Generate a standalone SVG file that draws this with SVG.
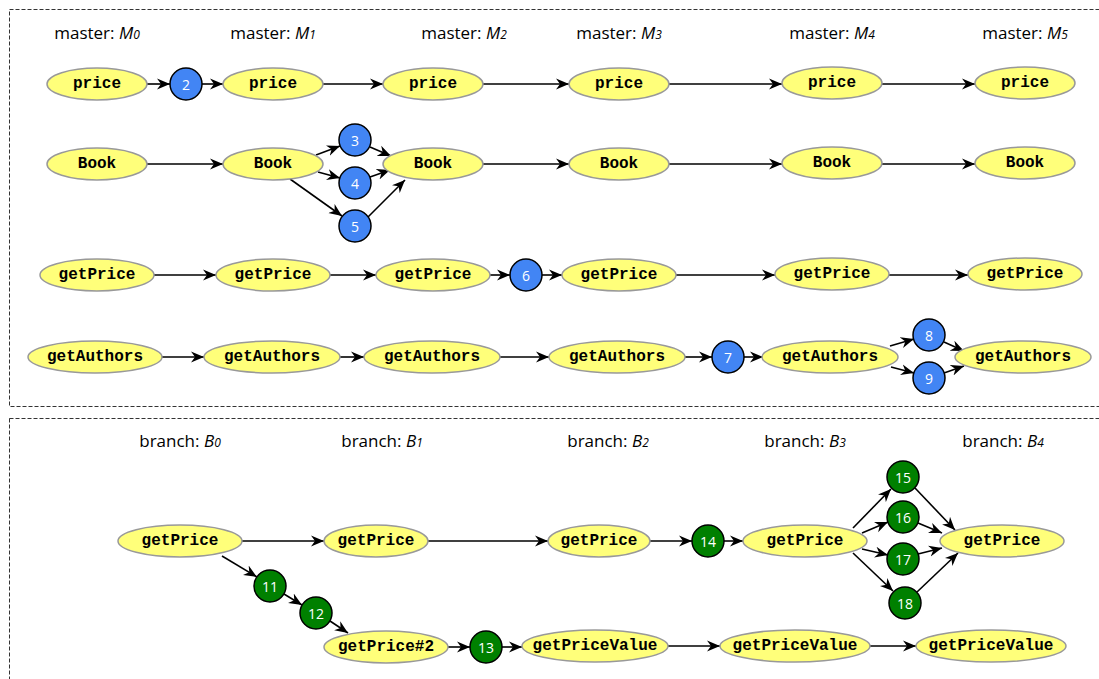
<svg xmlns="http://www.w3.org/2000/svg" width="1099" height="679" viewBox="0 0 1099 679">
<defs>
<marker id="ah" markerWidth="14" markerHeight="12" viewBox="0 0 14 12" refX="13" refY="6" orient="auto" markerUnits="userSpaceOnUse">
<path d="M0,0.5 L13,6 L0,11.5 L4,6 Z" fill="#000"/>
</marker>
<style>
.box{fill:none;stroke:#333;stroke-width:1;stroke-dasharray:4,2}
.lbl{font-family:"Open Sans","Liberation Sans",sans-serif;font-size:17px;fill:#000;text-anchor:middle}
.it{font-style:italic}
.sub{font-style:italic;font-size:12px}
.el{fill:#ffff7a;stroke:#999;stroke-width:1.5}
.et{font-family:"Liberation Mono","Courier New",monospace;font-weight:bold;font-size:16px;fill:#000;text-anchor:middle;dominant-baseline:central}
.cb{fill:#4285f4;stroke:#000;stroke-width:1.5}
.cg{fill:#008000;stroke:#000;stroke-width:1.5}
.ct{font-family:"Open Sans","Liberation Sans",sans-serif;font-size:14px;fill:#fff;text-anchor:middle;dominant-baseline:central}
.e{stroke:#000;stroke-width:1.6;fill:none;marker-end:url(#ah)}
</style>
</defs>
<rect width="1099" height="679" fill="#fff"/>
<rect class="box" x="9.5" y="9.5" width="1100" height="397"/>
<rect class="box" x="9.5" y="418.5" width="1100" height="300"/>

<g id="labels">
<text class="lbl" x="97" y="39">master: <tspan class="it">M</tspan><tspan class="sub">0</tspan></text>
<text class="lbl" x="273" y="39">master: <tspan class="it">M</tspan><tspan class="sub">1</tspan></text>
<text class="lbl" x="464" y="39">master: <tspan class="it">M</tspan><tspan class="sub">2</tspan></text>
<text class="lbl" x="619" y="39">master: <tspan class="it">M</tspan><tspan class="sub">3</tspan></text>
<text class="lbl" x="832" y="39">master: <tspan class="it">M</tspan><tspan class="sub">4</tspan></text>
<text class="lbl" x="1025" y="39">master: <tspan class="it">M</tspan><tspan class="sub">5</tspan></text>
<text class="lbl" x="180" y="447">branch: <tspan class="it">B</tspan><tspan class="sub">0</tspan></text>
<text class="lbl" x="382" y="447">branch: <tspan class="it">B</tspan><tspan class="sub">1</tspan></text>
<text class="lbl" x="608" y="447">branch: <tspan class="it">B</tspan><tspan class="sub">2</tspan></text>
<text class="lbl" x="805" y="447">branch: <tspan class="it">B</tspan><tspan class="sub">3</tspan></text>
<text class="lbl" x="1003" y="447">branch: <tspan class="it">B</tspan><tspan class="sub">4</tspan></text>
</g>

<g id="connectors">
<line class="e" x1="147" y1="84" x2="170" y2="84"/>
<line class="e" x1="202" y1="84" x2="223" y2="84"/>
<line class="e" x1="323" y1="84" x2="383" y2="84"/>
<line class="e" x1="483" y1="84" x2="569" y2="84"/>
<line class="e" x1="669" y1="84" x2="782" y2="84"/>
<line class="e" x1="882" y1="84" x2="975" y2="84"/>

<line class="e" x1="147" y1="164" x2="223" y2="164"/>
<line class="e" x1="316" y1="155" x2="340" y2="146"/>
<line class="e" x1="318" y1="172" x2="340" y2="178"/>
<line class="e" x1="290" y1="179" x2="342" y2="216"/>
<line class="e" x1="370" y1="147" x2="391" y2="156"/>
<line class="e" x1="370" y1="177" x2="390" y2="170"/>
<line class="e" x1="368" y1="217" x2="405" y2="180"/>
<line class="e" x1="483" y1="164" x2="569" y2="164"/>
<line class="e" x1="669" y1="164" x2="782" y2="164"/>
<line class="e" x1="882" y1="164" x2="975" y2="164"/>

<line class="e" x1="154" y1="275" x2="216" y2="275"/>
<line class="e" x1="330" y1="275" x2="376" y2="275"/>
<line class="e" x1="490" y1="275" x2="510" y2="275"/>
<line class="e" x1="542" y1="275" x2="562" y2="275"/>
<line class="e" x1="676" y1="275" x2="775" y2="275"/>
<line class="e" x1="889" y1="275" x2="968" y2="275"/>

<line class="e" x1="162" y1="357" x2="204" y2="357"/>
<line class="e" x1="340" y1="357" x2="364" y2="357"/>
<line class="e" x1="500" y1="357" x2="549" y2="357"/>
<line class="e" x1="685" y1="357" x2="712" y2="357"/>
<line class="e" x1="744" y1="357" x2="763" y2="357"/>
<line class="e" x1="890" y1="346" x2="914" y2="339"/>
<line class="e" x1="891" y1="367" x2="914" y2="373"/>
<line class="e" x1="944" y1="342" x2="964" y2="351"/>
<line class="e" x1="944" y1="373" x2="964" y2="366"/>

<line class="e" x1="242" y1="541" x2="324" y2="541"/>
<line class="e" x1="428" y1="541" x2="548" y2="541"/>
<line class="e" x1="650" y1="541" x2="692" y2="541"/>
<line class="e" x1="724" y1="541" x2="743" y2="541"/>
<line class="e" x1="853" y1="528" x2="891" y2="489"/>
<line class="e" x1="862" y1="533" x2="888" y2="522"/>
<line class="e" x1="862" y1="549" x2="888" y2="555"/>
<line class="e" x1="853" y1="553" x2="893" y2="591"/>
<line class="e" x1="915" y1="488" x2="955" y2="530"/>
<line class="e" x1="918" y1="523" x2="942" y2="533"/>
<line class="e" x1="918" y1="554" x2="942" y2="548"/>
<line class="e" x1="917" y1="592" x2="958" y2="553"/>
<line class="e" x1="222" y1="556" x2="257" y2="577"/>
<line class="e" x1="284" y1="594" x2="302" y2="605"/>
<line class="e" x1="330" y1="621" x2="348" y2="633"/>
<line class="e" x1="448" y1="647" x2="470" y2="647"/>
<line class="e" x1="502" y1="647" x2="522" y2="647"/>
<line class="e" x1="668" y1="646" x2="720" y2="646"/>
<line class="e" x1="870" y1="646" x2="916" y2="646"/>
</g>

<g id="price0"><ellipse class="el" cx="97" cy="84" rx="50" ry="16"/><text class="et" x="97" y="84">price</text></g>
<g id="c2"><circle class="cb" cx="186" cy="84" r="16"/><text class="ct" x="186" y="84">2</text></g>
<g id="price1"><ellipse class="el" cx="273" cy="84" rx="50" ry="16"/><text class="et" x="273" y="84">price</text></g>
<g id="price2"><ellipse class="el" cx="433" cy="84" rx="50" ry="16"/><text class="et" x="433" y="84">price</text></g>
<g id="price3"><ellipse class="el" cx="619" cy="84" rx="50" ry="16"/><text class="et" x="619" y="84">price</text></g>
<g id="price4"><ellipse class="el" cx="832" cy="83" rx="50" ry="16"/><text class="et" x="832" y="83">price</text></g>
<g id="price5"><ellipse class="el" cx="1025" cy="83" rx="50" ry="16"/><text class="et" x="1025" y="83">price</text></g>

<g id="book0"><ellipse class="el" cx="97" cy="164" rx="50" ry="16"/><text class="et" x="97" y="164">Book</text></g>
<g id="book1"><ellipse class="el" cx="273" cy="164" rx="50" ry="16"/><text class="et" x="273" y="164">Book</text></g>
<g id="c3"><circle class="cb" cx="355" cy="140" r="16"/><text class="ct" x="355" y="140">3</text></g>
<g id="c4"><circle class="cb" cx="355" cy="183" r="16"/><text class="ct" x="355" y="183">4</text></g>
<g id="c5"><circle class="cb" cx="355" cy="226" r="16"/><text class="ct" x="355" y="226">5</text></g>
<g id="book2"><ellipse class="el" cx="433" cy="164" rx="50" ry="16"/><text class="et" x="433" y="164">Book</text></g>
<g id="book3"><ellipse class="el" cx="619" cy="164" rx="50" ry="16"/><text class="et" x="619" y="164">Book</text></g>
<g id="book4"><ellipse class="el" cx="832" cy="163" rx="50" ry="16"/><text class="et" x="832" y="163">Book</text></g>
<g id="book5"><ellipse class="el" cx="1025" cy="163" rx="50" ry="16"/><text class="et" x="1025" y="163">Book</text></g>

<g id="gp0"><ellipse class="el" cx="97" cy="275" rx="57" ry="16"/><text class="et" x="97" y="275">getPrice</text></g>
<g id="gp1"><ellipse class="el" cx="273" cy="275" rx="57" ry="16"/><text class="et" x="273" y="275">getPrice</text></g>
<g id="gp2"><ellipse class="el" cx="433" cy="275" rx="57" ry="16"/><text class="et" x="433" y="275">getPrice</text></g>
<g id="c6"><circle class="cb" cx="526" cy="275" r="16"/><text class="ct" x="526" y="275">6</text></g>
<g id="gp3"><ellipse class="el" cx="619" cy="275" rx="57" ry="16"/><text class="et" x="619" y="275">getPrice</text></g>
<g id="gp4"><ellipse class="el" cx="832" cy="274" rx="57" ry="16"/><text class="et" x="832" y="274">getPrice</text></g>
<g id="gp5"><ellipse class="el" cx="1025" cy="274" rx="57" ry="16"/><text class="et" x="1025" y="274">getPrice</text></g>

<g id="ga0"><ellipse class="el" cx="95" cy="357" rx="67" ry="16"/><text class="et" x="95" y="357">getAuthors</text></g>
<g id="ga1"><ellipse class="el" cx="272" cy="357" rx="68" ry="16"/><text class="et" x="272" y="357">getAuthors</text></g>
<g id="ga2"><ellipse class="el" cx="432" cy="357" rx="68" ry="16"/><text class="et" x="432" y="357">getAuthors</text></g>
<g id="ga3"><ellipse class="el" cx="617" cy="357" rx="68" ry="16"/><text class="et" x="617" y="357">getAuthors</text></g>
<g id="c7"><circle class="cb" cx="728" cy="357" r="16"/><text class="ct" x="728" y="357">7</text></g>
<g id="ga4"><ellipse class="el" cx="830" cy="357" rx="68" ry="16"/><text class="et" x="830" y="357">getAuthors</text></g>
<g id="c8"><circle class="cb" cx="929" cy="335" r="16"/><text class="ct" x="929" y="335">8</text></g>
<g id="c9"><circle class="cb" cx="929" cy="378" r="16"/><text class="ct" x="929" y="378">9</text></g>
<g id="ga5"><ellipse class="el" cx="1023" cy="357" rx="68" ry="16"/><text class="et" x="1023" y="357">getAuthors</text></g>

<g id="bgp0"><ellipse class="el" cx="180" cy="541" rx="62" ry="16"/><text class="et" x="180" y="541">getPrice</text></g>
<g id="bgp1"><ellipse class="el" cx="376" cy="541" rx="52" ry="16"/><text class="et" x="376" y="541">getPrice</text></g>
<g id="bgp2"><ellipse class="el" cx="599" cy="541" rx="51" ry="16"/><text class="et" x="599" y="541">getPrice</text></g>
<g id="c14"><circle class="cg" cx="708" cy="541" r="16"/><text class="ct" x="708" y="541">14</text></g>
<g id="bgp3"><ellipse class="el" cx="805" cy="541" rx="62" ry="16"/><text class="et" x="805" y="541">getPrice</text></g>
<g id="c15"><circle class="cg" cx="903" cy="477" r="16"/><text class="ct" x="903" y="477">15</text></g>
<g id="c16"><circle class="cg" cx="903" cy="517" r="16"/><text class="ct" x="903" y="517">16</text></g>
<g id="c17"><circle class="cg" cx="903" cy="559" r="16"/><text class="ct" x="903" y="559">17</text></g>
<g id="c18"><circle class="cg" cx="905" cy="603" r="16"/><text class="ct" x="905" y="603">18</text></g>
<g id="bgp4"><ellipse class="el" cx="1002" cy="541" rx="62" ry="16"/><text class="et" x="1002" y="541">getPrice</text></g>
<g id="c11"><circle class="cg" cx="270" cy="586" r="16"/><text class="ct" x="270" y="586">11</text></g>
<g id="c12"><circle class="cg" cx="316" cy="613" r="16"/><text class="ct" x="316" y="613">12</text></g>
<g id="bgp5"><ellipse class="el" cx="386" cy="647" rx="62" ry="16"/><text class="et" x="386" y="647">getPrice#2</text></g>
<g id="c13"><circle class="cg" cx="486" cy="647" r="16"/><text class="ct" x="486" y="647">13</text></g>
<g id="gpv0"><ellipse class="el" cx="595" cy="646" rx="73" ry="16"/><text class="et" x="595" y="646">getPriceValue</text></g>
<g id="gpv1"><ellipse class="el" cx="795" cy="646" rx="75" ry="16"/><text class="et" x="795" y="646">getPriceValue</text></g>
<g id="gpv2"><ellipse class="el" cx="991" cy="646" rx="75" ry="16"/><text class="et" x="991" y="646">getPriceValue</text></g>
</svg>
